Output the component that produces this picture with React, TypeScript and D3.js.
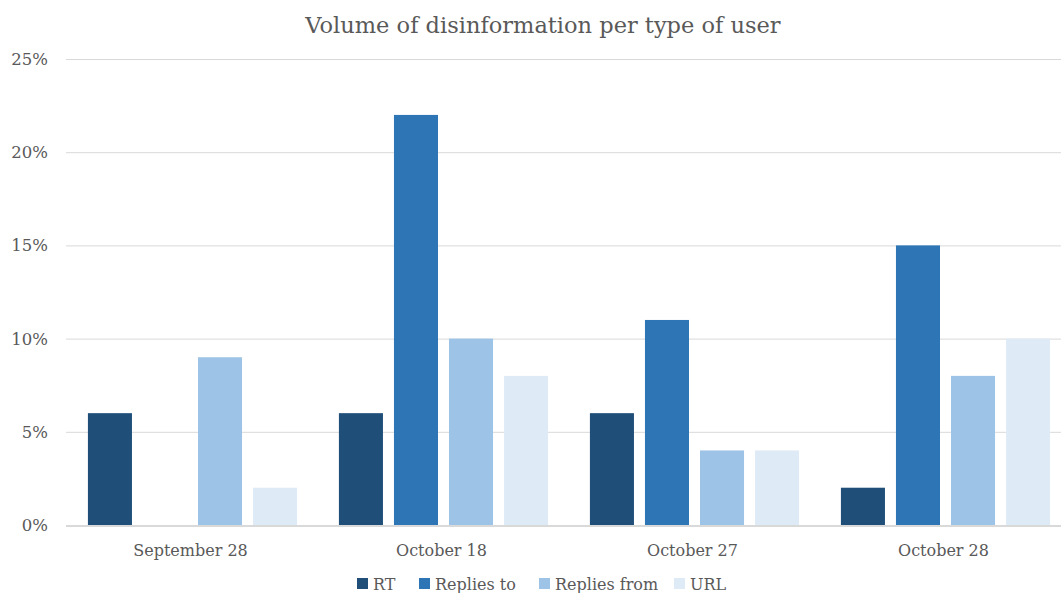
import { useRef, useEffect } from "react";
import * as d3 from "d3";

const categories = ["September 28", "October 18", "October 27", "October 28"];
const seriesNames = ["RT", "Replies to", "Replies from", "URL"];
const seriesColors = ["#1F4E79", "#2E75B6", "#9DC3E6", "#DEEBF7"];
const rtValues = [6, 6, 6, 2];
const repliesToValues = [0, 22, 11, 15];
const repliesFromValues = [9, 10, 4, 8];
const urlValues = [2, 8, 4, 10];
const yTicks = [0, 5, 10, 15, 20, 25];

const seriesValues = [rtValues, repliesToValues, repliesFromValues, urlValues];

export default function App() {
  const svgRef = useRef<SVGSVGElement>(null);

  useEffect(() => {
    if (!svgRef.current) return;
    const svg = d3.select(svgRef.current);
    svg.selectAll("*").remove();

    const width = 1061;
    const height = 593;
    const font = '"DejaVu Serif", serif';
    const textColor = "#595959";
    const left = 66;
    const gridRight = 1061;
    const top = 59;
    const bottom = 525;

    // the plot area runs a bit past the right edge of the picture
    const x0 = d3.scaleBand().domain(categories).range([67, 1071]);
    const x1 = d3
      .scaleBand()
      .domain(seriesNames)
      .range([0, x0.bandwidth()])
      .paddingInner(0.2)
      .paddingOuter(0.38);
    const y = d3.scaleLinear().domain([0, 25]).range([bottom, top]);

    svg.attr("width", width).attr("height", height);

    // Title
    svg
      .append("text")
      .attr("x", 543)
      .attr("y", 33)
      .attr("text-anchor", "middle")
      .style("font-family", font)
      .style("font-size", "22.5px")
      .attr("fill", textColor)
      .text("Volume of disinformation per type of user");

    // Grid lines
    svg
      .append("g")
      .selectAll("line")
      .data(yTicks.filter((t) => t > 0))
      .enter()
      .append("line")
      .attr("x1", left)
      .attr("x2", gridRight)
      .attr("y1", (d) => y(d) + 0.5)
      .attr("y2", (d) => y(d) + 0.5)
      .attr("stroke", "#D9D9D9")
      .attr("stroke-width", 1);

    // Y tick labels
    svg
      .append("g")
      .selectAll("text")
      .data(yTicks)
      .enter()
      .append("text")
      .attr("x", 48)
      .attr("y", (d) => y(d) + 6)
      .attr("text-anchor", "end")
      .style("font-family", font)
      .style("font-size", "16.5px")
      .attr("fill", textColor)
      .text((d) => `${d}%`);

    // Bars
    const groups = svg
      .append("g")
      .selectAll("g")
      .data(categories)
      .enter()
      .append("g")
      .attr("transform", (d) => `translate(${x0(d)},0)`);

    groups
      .selectAll("rect")
      .data((_, i) => seriesNames.map((s, j) => ({ s, v: seriesValues[j][i], c: seriesColors[j] })))
      .enter()
      .append("rect")
      .attr("x", (d) => x1(d.s) || 0)
      .attr("y", (d) => y(d.v))
      .attr("width", x1.bandwidth())
      .attr("height", (d) => bottom - y(d.v))
      .attr("fill", (d) => d.c);

    // Baseline
    svg
      .append("line")
      .attr("x1", left)
      .attr("x2", gridRight)
      .attr("y1", bottom + 1)
      .attr("y2", bottom + 1)
      .attr("stroke", "#D9D9D9")
      .attr("stroke-width", 2);

    // Category labels
    svg
      .append("g")
      .selectAll("text")
      .data(categories)
      .enter()
      .append("text")
      .attr("x", (d) => (x0(d) || 0) + x0.bandwidth() / 2 - 2)
      .attr("y", 556)
      .attr("text-anchor", "middle")
      .style("font-family", font)
      .style("font-size", "16px")
      .attr("fill", textColor)
      .text((d) => d);

    // Legend
    const legendX = [357, 419, 539, 674];
    const legend = svg
      .append("g")
      .selectAll("g")
      .data(seriesNames)
      .enter()
      .append("g")
      .attr("transform", (_, i) => `translate(${legendX[i]},578)`);

    legend
      .append("rect")
      .attr("width", 11)
      .attr("height", 11)
      .attr("fill", (_, i) => seriesColors[i]);

    legend
      .append("text")
      .attr("x", 16)
      .attr("y", 12)
      .style("font-family", font)
      .style("font-size", "16px")
      .attr("fill", textColor)
      .text((d) => d);
  }, []);

  return (
    <svg
      ref={svgRef}
      style={{ position: "absolute", left: 0, top: 0, display: "block", background: "#fff" }}
    />
  );
}
